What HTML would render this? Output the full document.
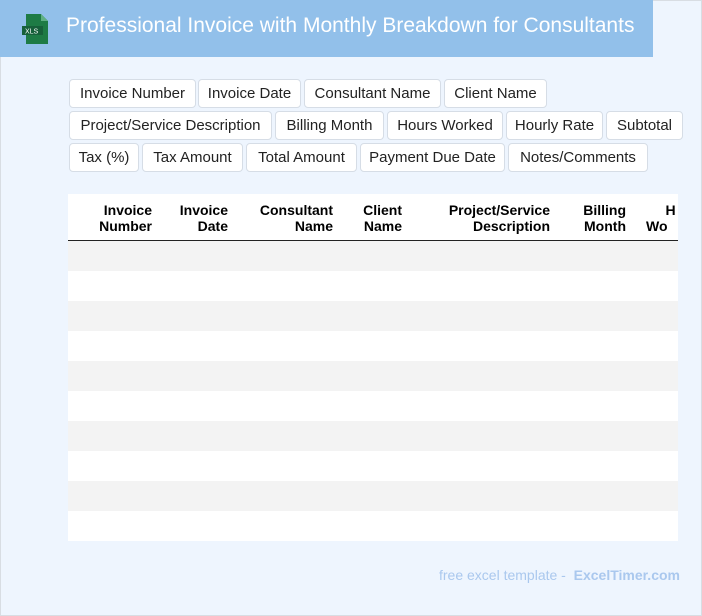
<!DOCTYPE html>
<html><head><meta charset="utf-8"><style>
*{margin:0;padding:0;box-sizing:border-box}
body{width:702px;height:616px;background:#eef5fe;position:relative;overflow:hidden;font-family:"Liberation Sans",sans-serif;box-shadow:inset 0 0 0 1px #d8dde3}
.hdr{position:absolute;left:0;top:0;width:653px;height:57px;background:#92c0ea}
.hdr .t{position:absolute;left:66px;top:14px;color:#fff;font-size:21px;white-space:nowrap}
.tag{position:absolute;height:29px;border:1px solid #d6dde6;border-radius:4px;background:#fff;font-size:15px;color:#222;line-height:27px;text-align:center;white-space:nowrap}
.tbl{position:absolute;left:68px;top:194px;width:610px;height:347px;background:#fff;overflow:hidden}
.th{position:absolute;top:8px;font-weight:bold;font-size:14px;line-height:16px;text-align:right;color:#000;white-space:nowrap}
.line{position:absolute;left:0;top:46px;width:610px;height:2px;background:#222}
.row{position:absolute;left:0;width:610px;height:30px}
.foot{position:absolute;right:22px;top:567px;font-size:14px;color:#aac8ee}
</style></head><body>
<div class="hdr">
<svg style="position:absolute;left:22px;top:14px" width="28" height="30" viewBox="0 0 28 30"><path d="M4 0h15l7 7v23H4z" fill="#1e7b45"/><path d="M19 0v7h7z" fill="#5fb083"/><rect x="0" y="12" width="21" height="9" fill="#17603a"/><text x="3" y="19.5" font-size="7" fill="#fff" font-family="Liberation Sans">XLS</text></svg>
<div class="t">Professional Invoice with Monthly Breakdown for Consultants</div>
</div>
<div class="tag" style="left:69px;top:79px;width:127px">Invoice Number</div>
<div class="tag" style="left:198px;top:79px;width:103px">Invoice Date</div>
<div class="tag" style="left:304px;top:79px;width:137px">Consultant Name</div>
<div class="tag" style="left:444px;top:79px;width:103px">Client Name</div>
<div class="tag" style="left:69px;top:111px;width:203px">Project/Service Description</div>
<div class="tag" style="left:275px;top:111px;width:109px">Billing Month</div>
<div class="tag" style="left:387px;top:111px;width:116px">Hours Worked</div>
<div class="tag" style="left:506px;top:111px;width:97px">Hourly Rate</div>
<div class="tag" style="left:606px;top:111px;width:77px">Subtotal</div>
<div class="tag" style="left:69px;top:143px;width:70px">Tax (%)</div>
<div class="tag" style="left:142px;top:143px;width:101px">Tax Amount</div>
<div class="tag" style="left:246px;top:143px;width:111px">Total Amount</div>
<div class="tag" style="left:360px;top:143px;width:145px">Payment Due Date</div>
<div class="tag" style="left:508px;top:143px;width:140px">Notes/Comments</div>
<div class="tbl">
<div class="th" style="right:526px">Invoice<br>Number</div>
<div class="th" style="right:450px">Invoice<br>Date</div>
<div class="th" style="right:345px">Consultant<br>Name</div>
<div class="th" style="right:276px">Client<br>Name</div>
<div class="th" style="right:128px">Project/Service<br>Description</div>
<div class="th" style="right:52px">Billing<br>Month</div>
<div class="th" style="left:578px;text-align:left">&nbsp;&nbsp;&nbsp;&nbsp;&nbsp;H<br>Wo</div>
<div class="line"></div>
<div class="row" style="top:47px;background:#f3f3f3"></div>
<div class="row" style="top:107px;background:#f3f3f3"></div>
<div class="row" style="top:167px;background:#f3f3f3"></div>
<div class="row" style="top:227px;background:#f3f3f3"></div>
<div class="row" style="top:287px;background:#f3f3f3"></div>
</div>
<div class="foot">free excel template - &nbsp;<b>ExcelTimer.com</b></div>
</body></html>
